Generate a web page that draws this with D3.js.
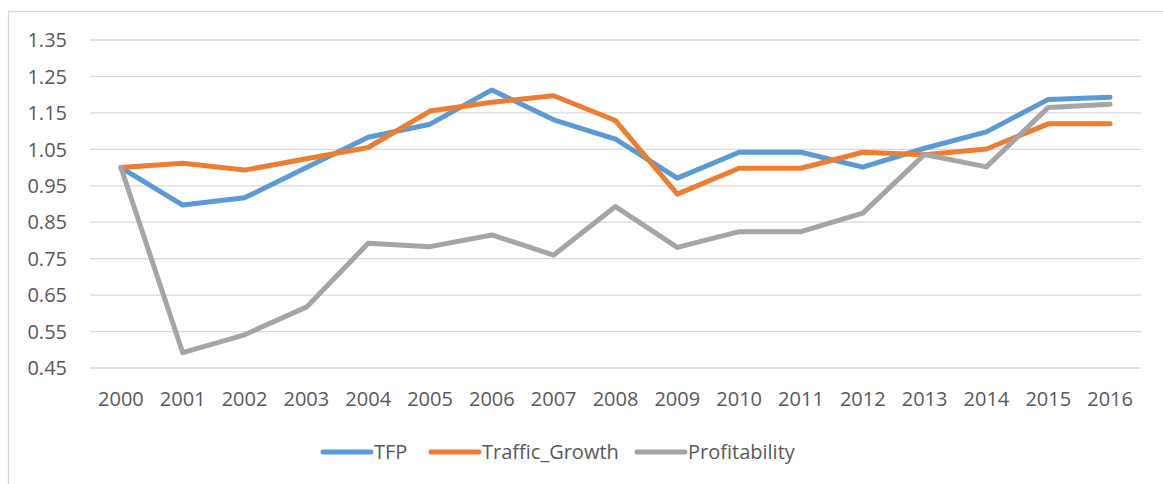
<!DOCTYPE html>
<html>
<head>
<meta charset="utf-8">
<script src="https://cdn.jsdelivr.net/npm/d3@7"></script>
<style>
  body { margin: 0; background: #fff; }
  svg { display: block; }
  text { font-family: "Open Sans", "Noto Sans", sans-serif; fill: #595959; }
</style>
</head>
<body>
<svg width="1163" height="484"></svg>
<script>
const years = ["2000","2001","2002","2003","2004","2005","2006","2007","2008","2009","2010","2011","2012","2013","2014","2015","2016"];
const tfp = [1.0, 0.897, 0.917, 1.0, 1.083, 1.119, 1.213, 1.131, 1.078, 0.971, 1.042, 1.042, 1.001, 1.053, 1.098, 1.187, 1.193];
const traffic = [1.0, 1.012, 0.993, 1.024, 1.055, 1.155, 1.179, 1.197, 1.129, 0.927, 0.998, 0.998, 1.042, 1.035, 1.051, 1.12, 1.12];
const profit = [1.0, 0.492, 0.541, 0.617, 0.792, 0.783, 0.815, 0.760, 0.893, 0.781, 0.824, 0.824, 0.875, 1.036, 1.002, 1.165, 1.174];
const yTicks = [0.45, 0.55, 0.65, 0.75, 0.85, 0.95, 1.05, 1.15, 1.25, 1.35];
const seriesNames = ["TFP", "Traffic_Growth", "Profitability"];
const colors = ["#5B9BD5", "#ED7D31", "#A5A5A5"];

let svg = d3.select("svg");

// chart border (runs past right and bottom edges)
svg.append("rect")
    .attr("x", 8.5).attr("y", 11.5)
    .attr("width", 1170).attr("height", 490)
    .attr("fill", "none")
    .attr("stroke", "#D9D9D9")
    .attr("stroke-width", 1.3);

const plotLeft = 90, plotRight = 1141, plotTop = 40, plotBottom = 368;

let x = d3.scaleBand().domain(years).range([plotLeft, plotRight]);
let y = d3.scaleLinear().domain([0.45, 1.35]).range([plotBottom, plotTop]);

// gridlines
svg.append("g")
    .selectAll("line")
    .data(yTicks)
    .enter().append("line")
    .attr("x1", plotLeft).attr("x2", plotRight)
    .attr("y1", d => y(d)).attr("y2", d => y(d))
    .attr("stroke", "#D9D9D9")
    .attr("stroke-width", 1.3);

// y labels
svg.append("g")
    .selectAll("text")
    .data(yTicks)
    .enter().append("text")
    .attr("x", 67)
    .attr("y", d => y(d))
    .attr("dy", "0.36em")
    .attr("text-anchor", "end")
    .attr("font-size", 20)
    .text(d => d.toFixed(2));

// x labels
svg.append("g")
    .selectAll("text")
    .data(years)
    .enter().append("text")
    .attr("x", d => x(d) + x.bandwidth() / 2)
    .attr("y", 406)
    .attr("text-anchor", "middle")
    .attr("font-size", 20)
    .text(d => d);

let line = d3.line()
    .x((d, i) => x(years[i]) + x.bandwidth() / 2)
    .y(d => y(d));

svg.append("g")
    .selectAll("path")
    .data([tfp, traffic, profit])
    .enter().append("path")
    .attr("d", line)
    .attr("fill", "none")
    .attr("stroke", (d, i) => colors[i])
    .attr("stroke-width", 5)
    .attr("stroke-linejoin", "round")
    .attr("stroke-linecap", "round");

// legend
const legendX = [323, 431, 637];
let legend = svg.append("g")
    .selectAll("g")
    .data(seriesNames)
    .enter().append("g")
    .attr("transform", (d, i) => "translate(" + legendX[i] + ",452)");

legend.append("line")
    .attr("x1", 0).attr("x2", 48)
    .attr("stroke", (d, i) => colors[i])
    .attr("stroke-width", 5)
    .attr("stroke-linecap", "round");

legend.append("text")
    .attr("x", 51)
    .attr("dy", "0.36em")
    .attr("font-size", 20)
    .text(d => d);
</script>
</body>
</html>
